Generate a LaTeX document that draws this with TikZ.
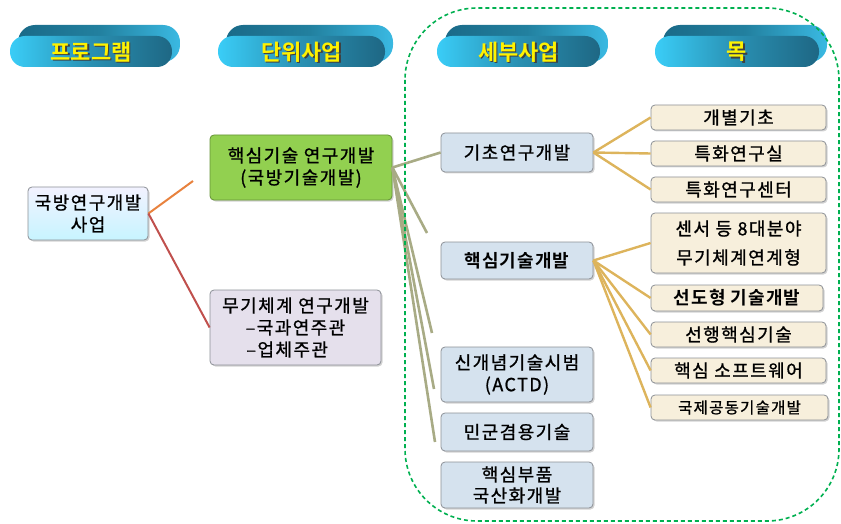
\documentclass[tikz,border=0pt]{standalone}
\usepackage{fontspec}
\newfontfamily\kr[FakeBold=1.0, LetterSpace=8]{Noto Sans CJK KR}
\newfontfamily\krb[LetterSpace=6]{Noto Sans CJK KR Bold}
\newfontfamily\krh{Noto Sans CJK KR Bold}
\usetikzlibrary{shadows}
\definecolor{bxblue}{HTML}{D5E2EE}
\definecolor{bxcream}{HTML}{F7EFDC}
\definecolor{bxgreen}{HTML}{92D050}
\definecolor{bxlav}{HTML}{E5E0EC}
\definecolor{bdgray}{HTML}{8C9096}
\definecolor{lnolive}{HTML}{A8AB85}
\definecolor{lngold}{HTML}{DDB45C}
\definecolor{lnorange}{HTML}{E8823E}
\definecolor{lnred}{HTML}{C0504D}
\definecolor{dashgreen}{HTML}{00B050}
\definecolor{pillL}{HTML}{3ACDF7}
\definecolor{pillR}{HTML}{1E6784}
\definecolor{backL}{HTML}{1A6A88}
\definecolor{backM}{HTML}{22809F}
\definecolor{backR}{HTML}{3AB9E2}
\begin{document}
\begin{tikzpicture}[x=1pt,y=-1pt,
  box/.style={draw=bdgray, line width=0.8pt, rounded corners=4pt, align=center,
    font=\kr\fontsize{18}{22}\selectfont, inner sep=2pt,
    drop shadow={shadow xshift=1.5pt, shadow yshift=-1.5pt, opacity=0.35}},
  midbox/.style={box, fill=bxblue, minimum width=152pt},
  rbox/.style={box, fill=bxcream, minimum width=175pt},
  hdr/.style={font=\krh\fontsize{22}{24}\selectfont, text=yellow, inner sep=0pt},
  hdrsh/.style={font=\krh\fontsize{22}{24}\selectfont, text=black!75, inner sep=0pt},
  olive/.style={draw=lnolive, line width=2.6pt},
  gold/.style={draw=lngold, line width=2.4pt},
]
\useasboundingbox (0,0) rectangle (841,524);

% header pills
\foreach \L/\R/\T/\nm in {10/180/프로그램/ha, 218/393/단위사업/hb, 437/608/세부사업/hc, 655/827/목/hd}{
  \shade[left color=backL, right color=backR, middle color=backM, rounded corners=17pt] (\L+8,25) rectangle (\R,62);
  \shade[left color=pillL, right color=pillR, middle color=pillL!40!pillR, rounded corners=15pt] (\L,36) rectangle (\R-8,67);
  \node[hdrsh] (\nm s) at ({(\L+\R-8)/2+1.5},53.5) {\T};
  \node[hdr] (\nm) at ({(\L+\R-8)/2},52) {\T};
}

% left nodes
\node[box, top color=blue!5!white, bottom color=blue!20!cyan!22!white, minimum width=120pt, minimum height=53pt] (kb) at (88,213.5) {국방연구개발\\사업};
\node[box, fill=bxgreen, draw=bxgreen!70!black, minimum width=182pt, minimum height=65pt] (core) at (301,167.5) {핵심기술 연구개발\\(국방기술개발)};
\node[box, fill=bxlav, minimum width=171pt, minimum height=75pt] (wp) at (295.5,327.5) {무기체계 연구개발\\–국과연주관\\–업체주관\phantom{관}};

% middle nodes
\node[midbox, minimum height=39pt] (gc) at (517,152.5) {기초연구개발};
\node[midbox, minimum height=37pt, font=\krb\fontsize{18}{22}\selectfont] (hs) at (517,260.5) {핵심기술개발};
\node[midbox, minimum height=55pt] (ac) at (517,374.5) {신개념기술시범\\(ACTD)};
\node[midbox, minimum height=38pt] (mg) at (517,432) {민군겸용기술};
\node[midbox, minimum height=46pt, font=\kr\fontsize{18}{21}\selectfont] (bp) at (517,485) {핵심부품\\국산화개발};

% right nodes
\node[rbox, minimum height=25pt] (r1) at (738.5,117.5) {개별기초};
\node[rbox, minimum height=25pt] (r2) at (738.5,153.5) {특화연구실};
\node[rbox, minimum height=25pt] (r3) at (738.5,189.5) {특화연구센터};
\node[rbox, minimum height=60pt, font=\kr\fontsize{18}{29}\selectfont] (r4) at (738.5,243) {센서 등 8대분야\\무기체계연계형};
\node[rbox, minimum width=172pt, minimum height=26pt, font=\krb\fontsize{18}{22}\selectfont] (r5) at (737,298) {선도형 기술개발};
\node[rbox, minimum height=25pt] (r6) at (738.5,334.5) {선행핵심기술};
\node[rbox, minimum height=25pt] (r7) at (738.5,370.5) {핵심 소프트웨어};
\node[rbox, minimum width=177pt, minimum height=25pt, font=\kr\fontsize{15.5}{20}\selectfont] (r8) at (739.5,407.5) {국제공동기술개발};

% free ends
\coordinate (oe) at (193,181);
\coordinate (s1) at (427,233);
\coordinate (s2) at (432,333);
\coordinate (s3) at (434,389);
\coordinate (s4) at (435,442);

% connectors
\draw[draw=lnorange, line width=2pt] (kb.east) -- (oe);
\draw[draw=lnred, line width=2pt] (kb.east) -- (wp.west);
\draw[olive] (core.east) -- (gc.west);
\foreach \t in {s1,s2,s3,s4}{ \draw[olive] (core.east) -- (\t); }
\foreach \t in {r1,r2,r3}{ \draw[gold] (gc.east) -- (\t.west); }
\foreach \t in {r4,r5,r6,r7,r8}{ \draw[gold] (hs.east) -- (\t.west); }

% dashed region
\draw[dashgreen, dash pattern=on 4pt off 3pt, line width=1.6pt, rounded corners=72pt] (405,8) rectangle (839,521);
\end{tikzpicture}
\end{document}
